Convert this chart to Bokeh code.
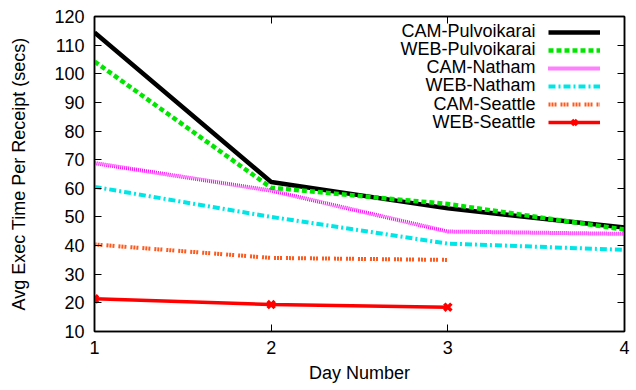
from bokeh.plotting import figure
from bokeh.models import (LinearAxis, FixedTicker, Legend, LegendItem, Label, Range1d)
from bokeh.core.properties import value
from bokeh.embed import file_html
from bokeh.resources import INLINE

days = [1, 2, 3, 4]
days_seattle = [1, 2, 3]
cam_pulvoikarai = [114.4, 62.2, 53.0, 46.3]
web_pulvoikarai = [104.3, 60.2, 54.5, 45.6]
cam_natham = [68.8, 59.2, 44.9, 44.1]
web_natham = [60.5, 50.0, 40.7, 38.5]
cam_seattle = [40.4, 35.7, 35.0]
web_seattle = [21.4, 19.4, 18.5]
y_ticks = list(range(10, 121, 10))
x_ticks = [1, 2, 3, 4]

FONT = "Liberation Sans"
FS = "18px"

p = figure(width=636, height=390, output_backend="svg", toolbar_location=None,
           x_range=Range1d(1, 4), y_range=Range1d(10, 120),
           min_border_left=94, min_border_right=12, min_border_top=16, min_border_bottom=59)
p.xgrid.visible = False
p.ygrid.visible = False
p.outline_line_color = "black"
p.outline_line_width = 1.5
p.background_fill_color = "white"
p.border_fill_color = "white"

def style_axis(ax, ticks, show_labels=True):
    ax.ticker = FixedTicker(ticks=ticks)
    ax.major_tick_in = 7
    ax.major_tick_out = 0
    ax.minor_tick_line_color = None
    ax.major_tick_line_color = "black"
    ax.major_tick_line_width = 1
    ax.axis_line_color = "black"
    ax.axis_line_width = 1.5
    ax.major_label_text_font = FONT
    if show_labels:
        ax.major_label_text_font_size = FS
        ax.major_label_text_color = "black"
    else:
        ax.major_label_text_font_size = "1px"
        ax.major_label_text_color = None
        ax.major_label_standoff = 0

xa = p.xaxis[0]
ya = p.yaxis[0]
style_axis(xa, x_ticks)
style_axis(ya, y_ticks)
xa.major_label_standoff = 9
ya.major_label_standoff = 10
xa.axis_label = "Day Number"
ya.axis_label = "Avg Exec Time Per Receipt (secs)"
for ax in (xa, ya):
    ax.axis_label_text_font = FONT
    ax.axis_label_text_font_size = FS
    ax.axis_label_text_font_style = "normal"
    ax.axis_label_text_color = "black"
xa.axis_label_standoff = 6
ya.axis_label_standoff = 22

top = LinearAxis()
style_axis(top, x_ticks, show_labels=False)
p.add_layout(top, "above")
right = LinearAxis()
style_axis(right, y_ticks, show_labels=False)
p.add_layout(right, "right")

r1 = p.line(days, cam_pulvoikarai, line_color="black", line_width=4.5)
r2 = p.line(days, web_pulvoikarai, line_color="#00e600", line_width=4.5, line_dash="5 3")
r3 = p.line(days, cam_natham, line_color="#ff00ff", line_width=4, line_dash="1 1")
r4 = p.line(days, web_natham, line_color="#00e6e6", line_width=4, line_dash="7 3 2 3")
r5 = p.line(days_seattle, cam_seattle, line_color="#ff5a1e", line_width=4, line_dash="2 1 2 1 2 4")
r6 = p.line(days_seattle, web_seattle, line_color="#ff0000", line_width=3.5)
r6m = p.scatter(days_seattle, web_seattle, marker="x", size=10, line_color="#ff0000", line_width=3.5)

names = ["CAM-Pulvoikarai", "WEB-Pulvoikarai", "CAM-Natham", "WEB-Natham", "CAM-Seattle", "WEB-Seattle"]
renderers = [[r1], [r2], [r3], [r4], [r5], [r6, r6m]]

ROW = 18.3
legend = Legend(items=[LegendItem(label=value(""), renderers=rs) for rs in renderers],
                location=(454, 200), glyph_width=52, glyph_height=18, label_height=18,
                label_width=0, label_standoff=0, padding=0, spacing=0,
                border_line_color=None, background_fill_alpha=0,
                label_text_font_size="1px", label_text_color=None)
p.add_layout(legend, "center")

for i, name in enumerate(names):
    p.add_layout(Label(x=441, y=301 - i * ROW, x_units="screen", y_units="screen", text=name,
                       text_align="right", text_baseline="middle", text_font=FONT,
                       text_font_size=FS, text_color="black"))

open("out.html", "w").write(file_html(p, INLINE))
